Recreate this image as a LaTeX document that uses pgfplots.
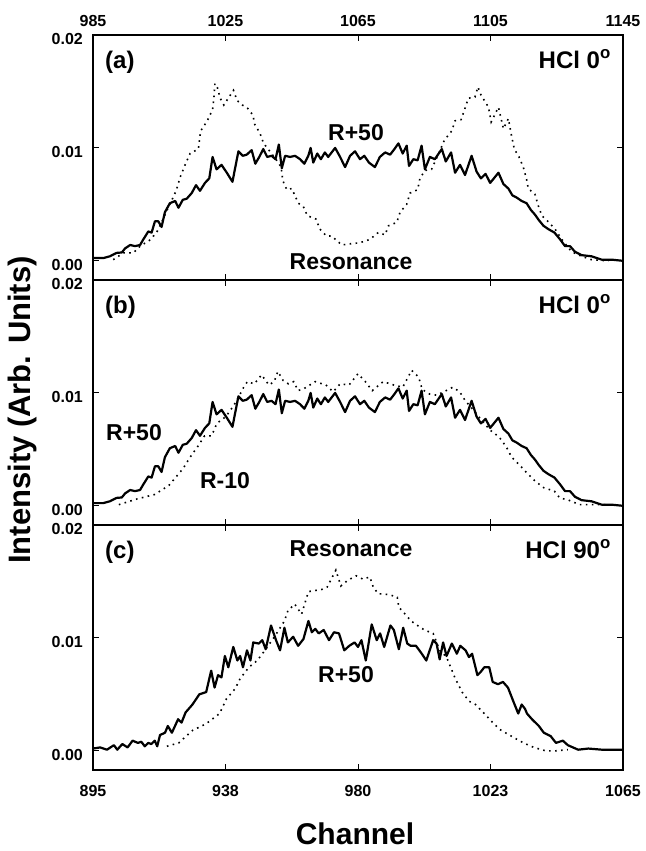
\documentclass[border=0pt]{standalone}
\usepackage{pgfplots}
\pgfplotsset{compat=1.18}
\usepackage{fontspec}
\setmainfont{Liberation Sans}
\newcommand{\tickfont}{\fontsize{16}{16}\selectfont\bfseries}
\newcommand{\labfont}{\fontsize{23}{23}\selectfont\bfseries}
\newcommand{\panfont}{\fontsize{24}{24}\selectfont\bfseries}
\begin{document}
\begin{tikzpicture}[x=1pt,y=1pt]
\useasboundingbox (0pt,0pt) rectangle (645pt,-851pt);
\pgfplotsset{
  panel/.style={
    width=530pt, height=245pt, scale only axis,
    anchor=north west,
    ymin=-0.0017, ymax=0.02,
    ytick={0,0.01,0.02}, yticklabels={0.00,0.01,0.02},
    scaled y ticks=false, scaled x ticks=false,
    tick align=inside, major tick length=6pt,
    axis line style={line width=1.1pt},
    every tick/.style={line width=0.9pt, black},
    yticklabel style={font=\tickfont, inner sep=0pt, anchor=east, xshift=-10pt, yshift=-4pt},
    xticklabel style={font=\tickfont, inner sep=0pt},
    /pgf/number format/assume math mode=true,
  },
  solid/.style={black, line width=2.2pt, line join=round},
  dots/.style={black, line width=1.6pt, dash pattern=on 1.6pt off 4.4pt},
}
% ---------- panel (a) ----------
\begin{axis}[panel, at={(93pt,-35pt)},
  xmin=985, xmax=1145, xtick={985,1025,1065,1105,1145},
  xticklabels={985,1025,1065,1105,1145},
  xticklabel pos=upper, xticklabel style={anchor=south, yshift=8pt}]
\addplot[solid] coordinates {
(985.1,0.00024)(988.1,0.00024)(990.1,0.0004)(992.1,0.0007)(993.7,0.00074)(994.7,0.0011)
(996.2,0.0014)(997.7,0.0013)(999.2,0.0014)(1000.2,0.0019)(1001.7,0.0026)(1002.7,0.0025)
(1003.7,0.0035)(1004.7,0.0035)(1005.7,0.0030)(1006.7,0.0043)(1008.2,0.0051)(1009.8,0.0053)
(1010.8,0.0047)(1012.1,0.0054)(1013.3,0.0055)(1014.8,0.0060)(1016.1,0.0067)(1017.3,0.0062)
(1018.8,0.0069)(1020.1,0.0073)(1021.1,0.0092)(1022.3,0.0081)(1023.8,0.0085)(1025.4,0.0078)
(1027.1,0.0070)(1028.9,0.0097)(1030.2,0.0093)(1031.4,0.0094)(1032.9,0.0098)(1034.0,0.0086)
(1035.2,0.0092)(1036.4,0.0099)(1037.6,0.0092)(1038.9,0.0093)(1040.1,0.0090)(1041.1,0.0103)
(1042.0,0.0082)(1043.0,0.0093)(1044.5,0.0092)(1046.0,0.0093)(1047.5,0.0090)(1048.8,0.0086)
(1050.0,0.0093)(1050.7,0.0100)(1051.5,0.0087)(1052.7,0.0095)(1053.8,0.0090)(1055.0,0.0096)
(1056.0,0.0092)(1058.1,0.0100)(1059.6,0.0092)(1061.1,0.0083)(1062.6,0.0093)(1064.1,0.0097)
(1065.6,0.0090)(1066.9,0.0093)(1068.3,0.0087)(1070.1,0.0083)(1071.6,0.0092)(1073.2,0.0096)
(1074.7,0.0094)(1076.0,0.0099)(1077.2,0.0104)(1078.5,0.0095)(1079.7,0.0102)(1080.4,0.0084)
(1081.7,0.0090)(1083.0,0.0089)(1084.2,0.0102)(1085.2,0.0081)(1086.7,0.0092)(1088.2,0.0090)
(1090.3,0.0099)(1091.5,0.0088)(1093.1,0.0096)(1094.3,0.0078)(1095.8,0.0085)(1097.3,0.0076)
(1099.3,0.0093)(1100.8,0.0079)(1102.1,0.0073)(1103.5,0.0077)(1104.9,0.0069)(1107.4,0.0078)
(1108.9,0.0068)(1110.4,0.0064)(1111.6,0.0058)(1112.9,0.0056)(1114.4,0.0053)(1115.9,0.0051)
(1117.2,0.0045)(1118.4,0.0041)(1119.6,0.0036)(1121.0,0.0031)(1122.5,0.0028)(1124.3,0.0025)
(1126.0,0.0019)(1127.5,0.0013)(1129.0,0.0013)(1130.5,0.0008)(1132.5,0.0005)(1135.5,0.0004)
(1138.6,0.0001)(1141.6,0.0001)(1145.0,0.0000)
};
\addplot[dots] coordinates {
(991.1,0.0001)(994.2,0.0007)(997.2,0.0007)(999.2,0.0013)(1002.0,0.0018)(1004.2,0.0025)
(1005.7,0.0034)(1007.7,0.0047)(1010.1,0.0062)(1011.3,0.0074)(1012.8,0.0085)(1014.3,0.0095)
(1016.8,0.0099)(1017.5,0.0115)(1019.5,0.0124)(1021.1,0.0134)(1021.5,0.0144)(1021.8,0.0157)
(1022.6,0.0153)(1023.4,0.0144)(1024.5,0.0138)(1027.4,0.0151)(1028.5,0.0142)(1030.1,0.0138)
(1031.7,0.0135)(1033.3,0.0129)(1033.8,0.0121)(1035.4,0.0113)(1036.5,0.0104)(1037.6,0.0100)
(1040.2,0.0090)(1041.8,0.0083)(1042.3,0.0071)(1043.5,0.0063)(1045.0,0.0064)(1047.0,0.0051)
(1048.5,0.0048)(1049.7,0.0040)(1052.3,0.0037)(1053.5,0.0028)(1055.5,0.0022)(1057.0,0.0022)
(1060.1,0.0014)(1062.4,0.0015)(1065.6,0.0016)(1068.6,0.0019)(1071.1,0.0025)(1073.2,0.0023)
(1074.2,0.0031)(1076.7,0.0034)(1077.7,0.0043)(1079.7,0.0050)(1080.7,0.0060)(1083.0,0.0063)
(1083.7,0.0073)(1085.2,0.0080)(1087.2,0.0081)(1089.8,0.0098)(1091.1,0.0107)(1093.3,0.0115)
(1094.3,0.0124)(1096.1,0.0125)(1097.3,0.0135)(1098.3,0.0144)(1100.3,0.0145)(1101.2,0.0154)
(1102.1,0.0147)(1104.4,0.0136)(1105.2,0.0123)(1107.4,0.0136)(1108.9,0.0117)(1110.4,0.0126)
(1111.4,0.0110)(1112.2,0.0099)(1113.6,0.0092)(1114.9,0.0083)(1115.9,0.0072)(1116.4,0.0064)
(1118.4,0.0059)(1119.4,0.0049)(1120.5,0.0040)(1122.3,0.0035)(1124.5,0.0028)(1126.5,0.0019)
(1129.5,0.0008)(1132.5,0.0004)(1135.5,0.0001)(1140.6,0.0000)
};
\end{axis}
% ---------- panel (b) ----------
\begin{axis}[panel, at={(93pt,-280pt)},
  xmin=985, xmax=1145, xtick={985,1025,1065,1105,1145}, xticklabels={}]
\addplot[solid] coordinates {
(985.1,0.00024)(988.1,0.00024)(990.1,0.0004)(992.1,0.0007)(993.7,0.00074)(994.7,0.0011)
(996.2,0.0014)(997.7,0.0013)(999.2,0.0014)(1000.2,0.0019)(1001.7,0.0026)(1002.7,0.0025)
(1003.7,0.0035)(1004.7,0.0035)(1005.7,0.0030)(1006.7,0.0043)(1008.2,0.0051)(1009.8,0.0053)
(1010.8,0.0047)(1012.1,0.0054)(1013.3,0.0055)(1014.8,0.0060)(1016.1,0.0067)(1017.3,0.0062)
(1018.8,0.0069)(1020.1,0.0073)(1021.1,0.0092)(1022.3,0.0081)(1023.8,0.0085)(1025.4,0.0078)
(1027.1,0.0070)(1028.9,0.0097)(1030.2,0.0093)(1031.4,0.0094)(1032.9,0.0098)(1034.0,0.0086)
(1035.2,0.0092)(1036.4,0.0099)(1037.6,0.0092)(1038.9,0.0093)(1040.1,0.0090)(1041.1,0.0103)
(1042.0,0.0082)(1043.0,0.0093)(1044.5,0.0092)(1046.0,0.0093)(1047.5,0.0090)(1048.8,0.0086)
(1050.0,0.0093)(1050.7,0.0100)(1051.5,0.0087)(1052.7,0.0095)(1053.8,0.0090)(1055.0,0.0096)
(1056.0,0.0092)(1058.1,0.0100)(1059.6,0.0092)(1061.1,0.0083)(1062.6,0.0093)(1064.1,0.0097)
(1065.6,0.0090)(1066.9,0.0093)(1068.3,0.0087)(1070.1,0.0083)(1071.6,0.0092)(1073.2,0.0096)
(1074.7,0.0094)(1076.0,0.0099)(1077.2,0.0104)(1078.5,0.0095)(1079.7,0.0102)(1080.4,0.0084)
(1081.7,0.0090)(1083.0,0.0089)(1084.2,0.0102)(1085.2,0.0081)(1086.7,0.0092)(1088.2,0.0090)
(1090.3,0.0099)(1091.5,0.0088)(1093.1,0.0096)(1094.3,0.0078)(1095.8,0.0085)(1097.3,0.0076)
(1099.3,0.0093)(1100.8,0.0079)(1102.1,0.0073)(1103.5,0.0077)(1104.9,0.0069)(1107.4,0.0078)
(1108.9,0.0068)(1110.4,0.0064)(1111.6,0.0058)(1112.9,0.0056)(1114.4,0.0053)(1115.9,0.0051)
(1117.2,0.0045)(1118.4,0.0041)(1119.6,0.0036)(1121.0,0.0031)(1122.5,0.0028)(1124.3,0.0025)
(1126.0,0.0019)(1127.5,0.0013)(1129.0,0.0013)(1130.5,0.0008)(1132.5,0.0005)(1135.5,0.0004)
(1138.6,0.0001)(1141.6,0.0001)(1145.0,0.0000)
};
\addplot[dots] coordinates {
(992.8,0.0001)(998.2,0.0006)(1003.6,0.0010)(1007.9,0.0018)(1012.2,0.0033)(1014.3,0.0043)
(1016.5,0.0052)(1018.7,0.0062)(1020.8,0.0062)(1022.4,0.0073)(1025.1,0.0079)(1027.3,0.0088)
(1028.9,0.0096)(1030.5,0.0105)(1031.6,0.0110)(1033.7,0.0108)(1035.9,0.0116)(1038.1,0.0107)
(1039.7,0.0110)(1040.8,0.0119)(1042.4,0.0111)(1044.0,0.0108)(1045.6,0.0110)(1046.9,0.0102)
(1048.8,0.0104)(1052.1,0.0110)(1055.3,0.0107)(1057.5,0.0101)(1059.6,0.0108)(1062.3,0.0107)
(1065.0,0.0117)(1067.2,0.0110)(1069.3,0.0102)(1072.6,0.0110)(1075.8,0.0107)(1078.5,0.0105)
(1081.2,0.0120)(1083.3,0.0114)(1084.4,0.0103)(1086.6,0.0099)(1088.7,0.0098)(1090.9,0.0101)
(1093.6,0.0105)(1095.7,0.0101)(1097.4,0.0093)(1099.5,0.0086)(1102.8,0.0074)(1104.9,0.0067)
(1107.6,0.0061)(1109.8,0.0052)(1111.4,0.0043)(1113.5,0.0037)(1115.7,0.0030)(1118.4,0.0022)
(1121.1,0.0016)(1124.3,0.0013)(1125.9,0.0007)(1128.6,0.0005)(1131.9,0.0001)(1136.2,0.0001)
(1140.5,0.0001)
};
\end{axis}
% ---------- panel (c) ----------
\begin{axis}[panel, at={(93pt,-525pt)},
  xmin=895, xmax=1065, xtick={895,937.5,980,1022.5,1065},
  xticklabels={895,938,980,1023,1065},
  xticklabel style={anchor=north, yshift=-15pt}]
\addplot[solid] coordinates {
(895.0,0.0002)(897.3,0.0003)(899.5,0.0001)(901.7,0.0005)(902.8,0.0001)(904.4,0.0006)
(906.1,0.0003)(907.7,0.0009)(909.4,0.0007)(910.5,0.0008)(911.6,0.0004)(912.7,0.0007)
(913.7,0.0006)(914.8,0.0009)(915.6,0.0004)(916.5,0.0014)(918.1,0.0016)(919.0,0.0022)
(920.3,0.0016)(922.3,0.0028)(923.4,0.0025)(924.7,0.0034)(926.9,0.0041)(929.1,0.0050)
(931.3,0.0052)(932.9,0.0071)(934.0,0.0056)(935.1,0.0067)(936.2,0.0065)(937.3,0.0084)
(938.4,0.0074)(940.0,0.0092)(941.3,0.0080)(942.2,0.0084)(943.1,0.0074)(944.4,0.0089)
(945.5,0.0080)(946.4,0.0096)(948.2,0.0095)(949.3,0.0098)(950.4,0.0090)(952.1,0.0111)
(953.7,0.0098)(955.0,0.0089)(956.4,0.0109)(957.5,0.0096)(959.2,0.0101)(960.8,0.0093)
(962.5,0.0099)(964.1,0.0115)(965.2,0.0105)(966.3,0.0108)(967.4,0.0104)(969.0,0.0107)
(970.7,0.0098)(972.3,0.0105)(973.9,0.0104)(975.6,0.0089)(977.2,0.0093)(978.9,0.0096)
(980.0,0.0092)(981.1,0.0098)(982.5,0.0080)(984.4,0.0112)(986.0,0.0098)(987.1,0.0104)
(988.4,0.0092)(990.4,0.0111)(991.5,0.0107)(993.1,0.0090)(994.5,0.0109)(995.8,0.0095)
(996.9,0.0093)(998.6,0.0093)(1000.2,0.0087)(1001.9,0.0080)(1004.1,0.0098)(1005.2,0.0095)
(1006.2,0.0081)(1007.3,0.0096)(1008.4,0.0084)(1010.1,0.0095)(1011.7,0.0086)(1012.8,0.0093)
(1014.5,0.0089)(1015.6,0.0083)(1016.6,0.0086)(1018.3,0.0067)(1019.4,0.0070)(1020.5,0.0074)
(1022.1,0.0074)(1023.2,0.0061)(1024.9,0.0059)(1026.5,0.0061)(1028.1,0.0056)(1029.8,0.0044)
(1031.4,0.0033)(1032.5,0.0041)(1033.6,0.0037)(1034.2,0.0033)(1035.8,0.0028)(1038.0,0.0022)
(1039.6,0.0016)(1041.8,0.0013)(1043.5,0.0007)(1045.7,0.0009)(1047.3,0.0005)(1050.6,0.0001)
(1053.9,0.0002)(1058.2,0.0001)(1061.5,0.0001)(1065.0,0.0001)
};
\addplot[dots] coordinates {
(918.7,0.0004)(922.5,0.0007)(926.9,0.0018)(931.3,0.0024)(935.6,0.0033)(937.8,0.0046)
(940.6,0.0055)(942.2,0.0064)(945.0,0.0074)(947.7,0.0080)(950.4,0.0090)(953.2,0.0101)
(956.4,0.0115)(957.5,0.0124)(959.7,0.0130)(961.9,0.0121)(964.1,0.0141)(966.3,0.0142)
(968.5,0.0143)(970.1,0.0145)(972.9,0.0160)(974.5,0.0146)(976.7,0.0151)(979.4,0.0155)
(981.6,0.0152)(983.8,0.0154)(984.9,0.0145)(986.5,0.0139)(988.2,0.0139)(990.4,0.0138)
(992.6,0.0136)(993.1,0.0127)(994.2,0.0124)(997.0,0.0115)(999.1,0.0111)(1001.3,0.0107)
(1004.1,0.0104)(1006.2,0.0089)(1008.4,0.0083)(1011.2,0.0064)(1013.4,0.0052)(1015.6,0.0044)
(1017.7,0.0041)(1020.5,0.0033)(1023.2,0.0025)(1025.4,0.0019)(1029.8,0.0012)(1033.1,0.0007)
(1036.4,0.0003)(1040.2,0.0000)(1043.5,0.0000)(1047.3,0.0001)
};
\end{axis}
% ---------- text ----------
\node[anchor=base west, inner sep=0pt, font=\panfont] at (105pt,-68pt) {(a)};
\node[anchor=base east, inner sep=0pt, font=\panfont] at (611pt,-68pt) {HCl 0\textsuperscript{o}};
\node[font=\labfont] at (356pt,-133pt) {R+50};
\node[font=\labfont] at (351pt,-262pt) {Resonance};
\node[anchor=base west, inner sep=0pt, font=\panfont] at (105pt,-313pt) {(b)};
\node[anchor=base east, inner sep=0pt, font=\panfont] at (611pt,-313pt) {HCl 0\textsuperscript{o}};
\node[font=\labfont] at (134pt,-433pt) {R+50};
\node[font=\labfont] at (225pt,-481pt) {R-10};
\node[anchor=base west, inner sep=0pt, font=\panfont] at (105pt,-558pt) {(c)};
\node[anchor=base east, inner sep=0pt, font=\panfont] at (611pt,-558pt) {HCl 90\textsuperscript{o}};
\node[font=\labfont] at (351pt,-549pt) {Resonance};
\node[font=\labfont] at (346pt,-675pt) {R+50};
\node[rotate=90, font=\fontsize{31}{31}\selectfont\bfseries] at (22pt,-410pt) {Intensity (Arb. Units)};
\node[anchor=base, inner sep=0pt, font=\fontsize{30}{30}\selectfont\bfseries] at (355pt,-844pt) {Channel};
\end{tikzpicture}
\end{document}
